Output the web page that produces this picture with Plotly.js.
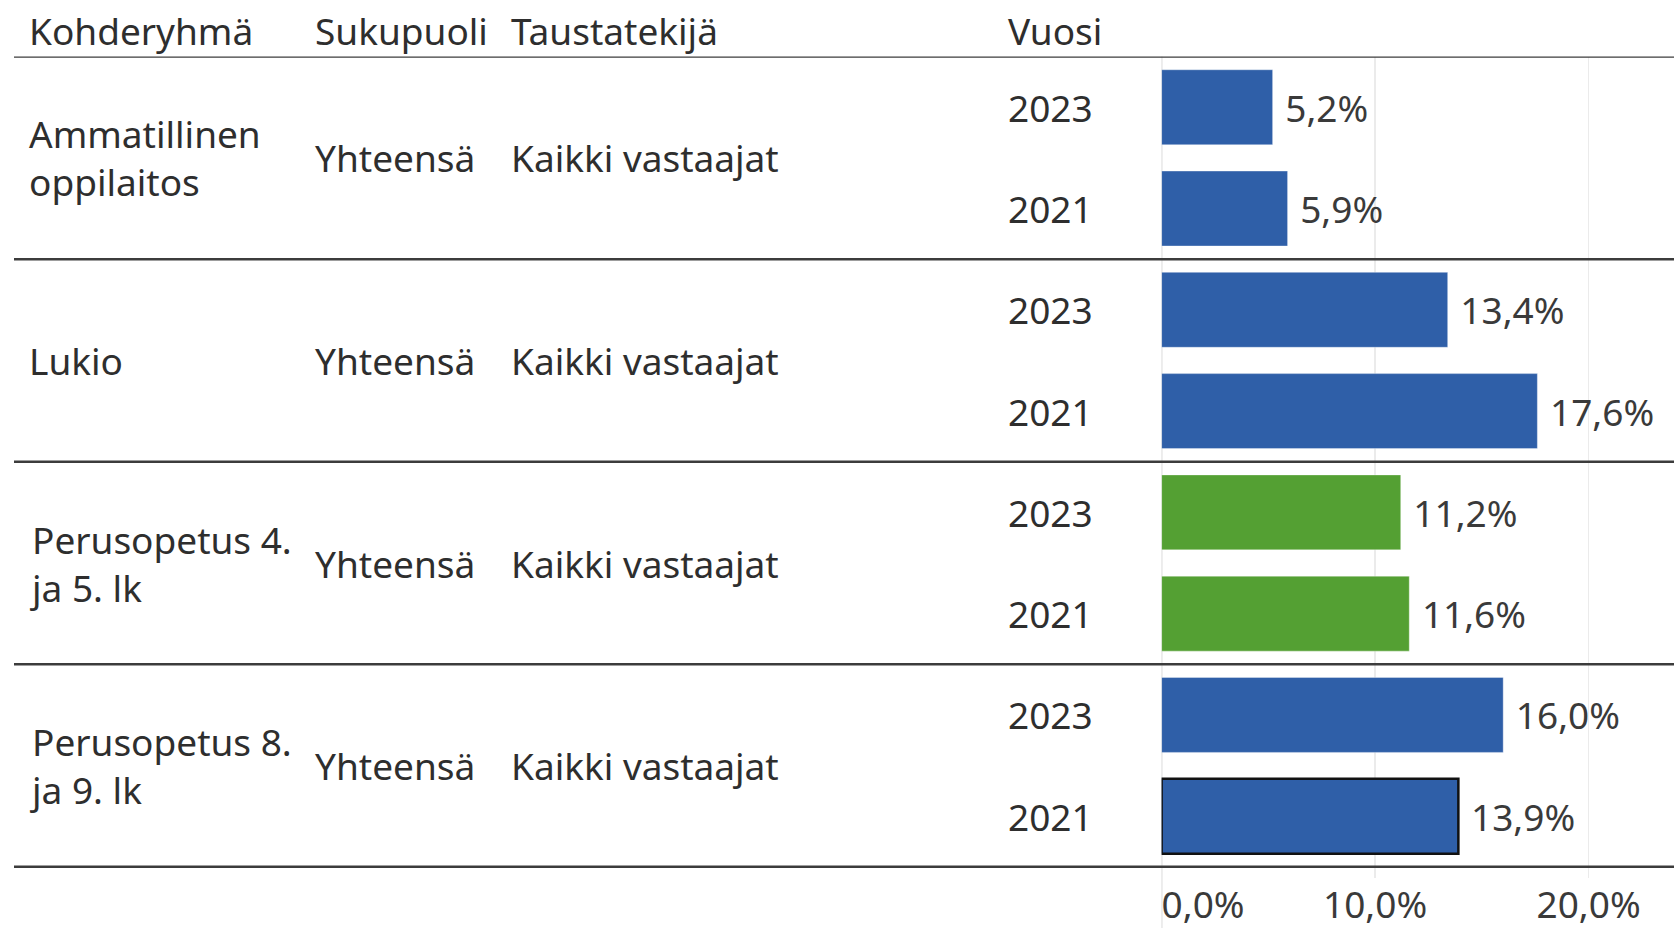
<!DOCTYPE html>
<html>
<head>
<meta charset="utf-8">
<script src="https://cdn.plot.ly/plotly-3.0.1.min.js"></script>
<style>html,body{margin:0;padding:0;background:#fff;}#chart{width:1674px;height:928px;}</style>
</head>
<body>
<div id="chart"></div>
<script>
// ---- data ----
const groups = ["Ammatillinen<br>oppilaitos", "Lukio", "Perusopetus 4.<br>ja 5. lk", "Perusopetus 8.<br>ja 9. lk"];
const sukupuoli = ["Yhteensä", "Yhteensä", "Yhteensä", "Yhteensä"];
const taustatekija = ["Kaikki vastaajat", "Kaikki vastaajat", "Kaikki vastaajat", "Kaikki vastaajat"];
const years = ["2023", "2021"];
const values2023 = [5.2, 13.4, 11.2, 16.0];
const values2021 = [5.9, 17.6, 11.6, 13.9];
const headers = ["Kohderyhmä", "Sukupuoli", "Taustatekijä", "Vuosi"];
const tickVals = [0, 10, 20];
const tickLabels = ["0,0%", "10,0%", "20,0%"];

// ---- style ----
const W = 1674, H = 928;
const BLUE = "#2f5fa8", GREEN = "#54a033";
const groupColors = [BLUE, BLUE, GREEN, BLUE];
const FONT = "Noto Sans";
const FS = 37;
const TXT = "#2e2e2e";

// build bar arrays
const ys = [], xs = [], cols = [], lcol = [], lw = [], txt = [];
groups.forEach((g, i) => {
  [values2023[i], values2021[i]].forEach((v, k) => {
    ys.push(2 * i + k);
    xs.push(v);
    cols.push(groupColors[i]);
    const sel = (i === 3 && k === 1);
    lcol.push(sel ? "#111111" : "rgba(255,255,255,0.35)");
    lw.push(sel ? 2.5 : 1);
    txt.push("\u00a0" + v.toFixed(1).replace(".", ",") + "%");
  });
});

const trace = {
  type: "bar", orientation: "h",
  x: xs, y: ys,
  marker: {color: cols, line: {color: lcol, width: lw}},
  width: 0.74,
  text: txt, textposition: "outside", constraintext: "none", cliponaxis: false,
  textfont: {family: FONT, size: FS, color: "#3a3a3a"},
  hoverinfo: "none"
};
// invisible helper so the first tick label axis is drawn
const helper = {type: "scatter", x: [0], y: [0], xaxis: "x2", yaxis: "y", mode: "markers",
  marker: {opacity: 0}, hoverinfo: "none", showlegend: false};

const yTop = 1 - 56.6 / H, yBot = 1 - 878 / H;
const annotations = [];
const hx = [27, 313, 509, 1006];
headers.forEach((h, i) => annotations.push({
  text: h, xref: "paper", yref: "paper", x: hx[i] / W, y: 1 - 30 / H,
  xanchor: "left", yanchor: "middle", showarrow: false,
  font: {family: FONT, size: FS, color: TXT}
}));
groups.forEach((g, i) => {
  const yc = 2 * i + 0.5;
  [[g, hx[0]], [sukupuoli[i], hx[1]], [taustatekija[i], hx[2]]].forEach(([t, x]) => annotations.push({
    text: t, xref: "paper", yref: "y", x: x / W, y: yc, xanchor: "left", yanchor: "middle",
    align: "left", showarrow: false, font: {family: FONT, size: FS, color: TXT}
  }));
  years.forEach((yr, k) => annotations.push({
    text: yr, xref: "paper", yref: "y", x: hx[3] / W, y: 2 * i + k, xanchor: "left", yanchor: "middle",
    showarrow: false, font: {family: FONT, size: FS, color: TXT}
  }));
});

const shapes = [];
for (let b = 0; b <= groups.length; b++) {
  shapes.push({type: "line", xref: "paper", yref: "y", x0: 14 / W, x1: 1, y0: 2 * b - 0.5, y1: 2 * b - 0.5,
    line: {color: "#3c3c3c", width: 2.5}});
}
shapes.push({type: "line", xref: "x", yref: "paper", x0: 0, x1: 0, y0: 0, y1: yTop,
  line: {color: "#cfcfcf", width: 1.5}, layer: "below"});

const axFont = {family: FONT, size: FS, color: "#3a3a3a"};
const layout = {
  width: W, height: H,
  margin: {l: 0, r: 0, t: 0, b: 0},
  paper_bgcolor: "#ffffff", plot_bgcolor: "#ffffff",
  showlegend: false,
  xaxis: {domain: [1161.6 / W, 1], range: [0, 24], tickvals: tickVals.slice(1), ticktext: tickLabels.slice(1),
    showgrid: true, gridcolor: "#ebebeb", gridwidth: 1.5, zeroline: false, showline: false, ticks: "",
    ticklabelstandoff: 2, tickfont: axFont, fixedrange: true},
  xaxis2: {domain: [1161.6 / W, 1], range: [0, 24], overlaying: "x", anchor: "y", side: "bottom",
    tickvals: tickVals.slice(0, 1), ticktext: tickLabels.slice(0, 1), ticklabelposition: "outside right",
    showgrid: false, zeroline: false, showline: false, ticks: "", ticklabelstandoff: 2,
    tickfont: axFont, fixedrange: true},
  yaxis: {domain: [yBot, yTop], range: [7.61, -0.5], showticklabels: false, showgrid: false,
    zeroline: false, showline: false, ticks: "", fixedrange: true},
  annotations: annotations,
  shapes: shapes,
  bargap: 0
};

Plotly.newPlot("chart", [trace, helper], layout, {displayModeBar: false, staticPlot: true});
</script>
</body>
</html>
